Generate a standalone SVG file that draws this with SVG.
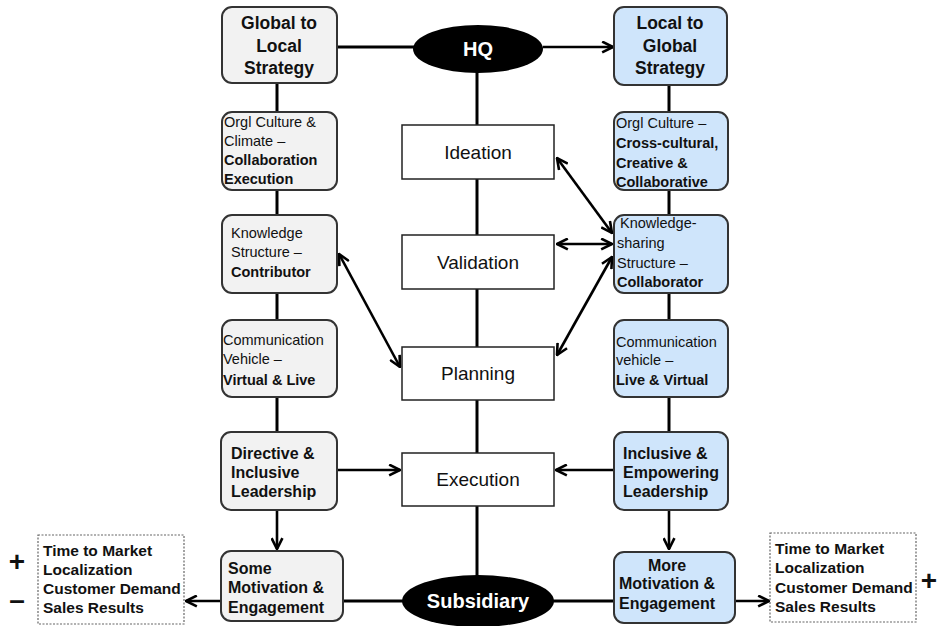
<svg xmlns="http://www.w3.org/2000/svg" width="943" height="626" viewBox="0 0 943 626">
<defs>
<marker id="ah" viewBox="0 0 12 12" refX="11" refY="6" markerWidth="13" markerHeight="13" markerUnits="userSpaceOnUse" orient="auto-start-reverse">
<path d="M1,1 L11,6 L1,11" fill="none" stroke="#000" stroke-width="2.4"/>
</marker>
<style>
.l{fill:#f2f2f2;stroke:#333;stroke-width:2}
.r{fill:#cfe5fb;stroke:#333;stroke-width:2}
.c{fill:#fff;stroke:#222;stroke-width:1.5}
.d{fill:#fff;stroke:#666;stroke-width:1.2;stroke-dasharray:2 1.5}
text{font-family:"Liberation Sans",Arial,sans-serif;fill:#111}
.t{font-size:17.5px;font-weight:bold;text-anchor:middle}
.s{font-size:14.5px}
.b{font-weight:bold}
.m{font-size:16px;font-weight:bold}
.dt{font-size:15.5px;font-weight:bold}
.ct{font-size:19px;text-anchor:middle}
.e{font-size:20px;font-weight:bold;fill:#fff;text-anchor:middle}
.cn{stroke:#000;stroke-width:3;fill:none}
.ar{stroke:#000;stroke-width:2.6;fill:none}
.pm{font-size:28px;font-weight:bold;text-anchor:middle}
</style>
</defs>
<g id="connectors">
<line class="cn" x1="336" y1="47" x2="414" y2="47"/>
<line class="ar" x1="543" y1="47" x2="613" y2="47" marker-end="url(#ah)"/>
<line class="cn" x1="477" y1="72" x2="477" y2="125"/>
<line class="cn" x1="477" y1="179" x2="477" y2="235"/>
<line class="cn" x1="477" y1="289" x2="477" y2="347"/>
<line class="cn" x1="477" y1="400" x2="477" y2="453"/>
<line class="cn" x1="477" y1="506" x2="477" y2="576"/>
<line class="cn" x1="277" y1="83" x2="277" y2="112"/>
<line class="cn" x1="277" y1="190" x2="277" y2="215"/>
<line class="cn" x1="277" y1="293" x2="277" y2="320"/>
<line class="cn" x1="277" y1="397" x2="277" y2="432"/>
<line class="ar" x1="277" y1="510" x2="277" y2="549" marker-end="url(#ah)"/>
<line class="cn" x1="669" y1="85" x2="669" y2="112"/>
<line class="cn" x1="669" y1="190" x2="669" y2="215"/>
<line class="cn" x1="669" y1="293" x2="669" y2="320"/>
<line class="cn" x1="669" y1="397" x2="669" y2="432"/>
<line class="ar" x1="669" y1="510" x2="669" y2="549" marker-end="url(#ah)"/>
<line class="ar" x1="337" y1="470" x2="400" y2="470" marker-end="url(#ah)"/>
<line class="ar" x1="614" y1="470" x2="556" y2="470" marker-end="url(#ah)"/>
<line class="ar" x1="557" y1="158" x2="612" y2="233" marker-start="url(#ah)" marker-end="url(#ah)"/>
<line class="ar" x1="557" y1="244" x2="612" y2="244" marker-start="url(#ah)" marker-end="url(#ah)"/>
<line class="ar" x1="557" y1="355" x2="612" y2="257" marker-start="url(#ah)" marker-end="url(#ah)"/>
<line class="ar" x1="339" y1="254" x2="400" y2="367" marker-start="url(#ah)" marker-end="url(#ah)"/>
<line class="cn" x1="343" y1="601" x2="403" y2="601"/>
<line class="cn" x1="553" y1="601" x2="614" y2="601"/>
<line class="ar" x1="221" y1="601" x2="186" y2="601" marker-end="url(#ah)"/>
<line class="ar" x1="735" y1="601" x2="769" y2="601" marker-end="url(#ah)"/>
</g>
<g id="hq">
<ellipse cx="478" cy="49" rx="65" ry="24" fill="#000"/>
<text class="e" x="478" y="56">HQ</text>
</g>
<g id="subsidiary">
<ellipse cx="478" cy="601" rx="76" ry="26" fill="#000"/>
<text class="e" x="478" y="608">Subsidiary</text>
</g>
<g id="ideation"><rect class="c" x="402" y="125" width="152" height="54"/><text class="ct" x="478" y="159">Ideation</text></g>
<g id="validation"><rect class="c" x="402" y="235" width="152" height="54"/><text class="ct" x="478" y="269">Validation</text></g>
<g id="planning"><rect class="c" x="402" y="347" width="152" height="53"/><text class="ct" x="478" y="380">Planning</text></g>
<g id="execution"><rect class="c" x="402" y="453" width="152" height="53"/><text class="ct" x="478" y="486">Execution</text></g>

<g id="global-to-local"><rect class="l" x="222" y="7" width="115" height="76" rx="10"/>
<text class="t" x="279" y="29">Global to</text><text class="t" x="279" y="52">Local</text><text class="t" x="279" y="74">Strategy</text></g>
<g id="orgl-culture-left"><rect class="l" x="222" y="112" width="115" height="78" rx="10"/>
<text class="s" x="224" y="127">Orgl Culture &amp;</text><text class="s" x="224" y="146">Climate –</text>
<text class="s b" x="224" y="165">Collaboration</text><text class="s b" x="224" y="184">Execution</text></g>
<g id="knowledge-left"><rect class="l" x="222" y="215" width="115" height="78" rx="10"/>
<text class="s" x="231" y="238">Knowledge</text><text class="s" x="231" y="257">Structure  –</text>
<text class="s b" x="231" y="277">Contributor</text></g>
<g id="comm-left"><rect class="l" x="222" y="320" width="115" height="77" rx="10"/>
<text class="s" x="223" y="345">Communication</text><text class="s" x="223" y="364">Vehicle –</text>
<text class="s b" x="223" y="385">Virtual &amp; Live</text></g>
<g id="directive"><rect class="l" x="221" y="432" width="116" height="78" rx="10"/>
<text class="m" x="231" y="459">Directive &amp;</text><text class="m" x="231" y="478">Inclusive</text><text class="m" x="231" y="497">Leadership</text></g>
<g id="some-motivation"><rect class="l" x="221" y="551" width="122" height="70" rx="10"/>
<text class="m" x="228" y="574">Some</text><text class="m" x="228" y="593">Motivation &amp;</text><text class="m" x="228" y="613">Engagement</text></g>

<g id="local-to-global"><rect class="r" x="614" y="7" width="113" height="78" rx="10"/>
<text class="t" x="670" y="29">Local  to</text><text class="t" x="670" y="52">Global</text><text class="t" x="670" y="74">Strategy</text></g>
<g id="orgl-culture-right"><rect class="r" x="614" y="112" width="114" height="78" rx="10"/>
<text class="s" x="616" y="128">Orgl Culture –</text><text class="s b" x="616" y="148">Cross-cultural,</text>
<text class="s b" x="616" y="168">Creative &amp;</text><text class="s b" x="616" y="187">Collaborative</text></g>
<g id="knowledge-right"><rect class="r" x="614" y="215" width="114" height="78" rx="10"/>
<text class="s" x="620" y="228">Knowledge-</text><text class="s" x="617" y="248">sharing</text>
<text class="s" x="617" y="268">Structure  –</text><text class="s b" x="617" y="287">Collaborator</text></g>
<g id="comm-right"><rect class="r" x="614" y="320" width="114" height="77" rx="10"/>
<text class="s" x="616" y="347">Communication</text><text class="s" x="616" y="365">vehicle  –</text>
<text class="s b" x="616" y="385">Live &amp; Virtual</text></g>
<g id="inclusive"><rect class="r" x="614" y="432" width="114" height="78" rx="10"/>
<text class="m" x="623" y="459">Inclusive  &amp;</text><text class="m" x="623" y="478">Empowering</text><text class="m" x="623" y="497">Leadership</text></g>
<g id="more-motivation"><rect class="r" x="614" y="552" width="121" height="71" rx="10"/>
<text class="m" x="667" y="571" text-anchor="middle">More</text><text class="m" x="667" y="589" text-anchor="middle">Motivation &amp;</text><text class="m" x="667" y="609" text-anchor="middle">Engagement</text></g>

<g id="results-left"><rect class="d" x="38" y="535" width="146" height="89"/>
<text class="dt" x="43" y="556">Time to Market</text><text class="dt" x="43" y="575">Localization</text>
<text class="dt" x="43" y="594">Customer Demand</text><text class="dt" x="43" y="613">Sales  Results</text></g>
<g id="results-right"><rect class="d" x="770" y="533" width="146" height="89"/>
<text class="dt" x="775" y="554">Time to Market</text><text class="dt" x="775" y="573">Localization</text>
<text class="dt" x="775" y="593">Customer Demand</text><text class="dt" x="775" y="612">Sales  Results</text></g>
<g id="signs">
<text class="pm" x="17" y="571">+</text>
<text class="pm" x="17" y="609">–</text>
<text class="pm" x="929" y="590">+</text>
</g>
</svg>
